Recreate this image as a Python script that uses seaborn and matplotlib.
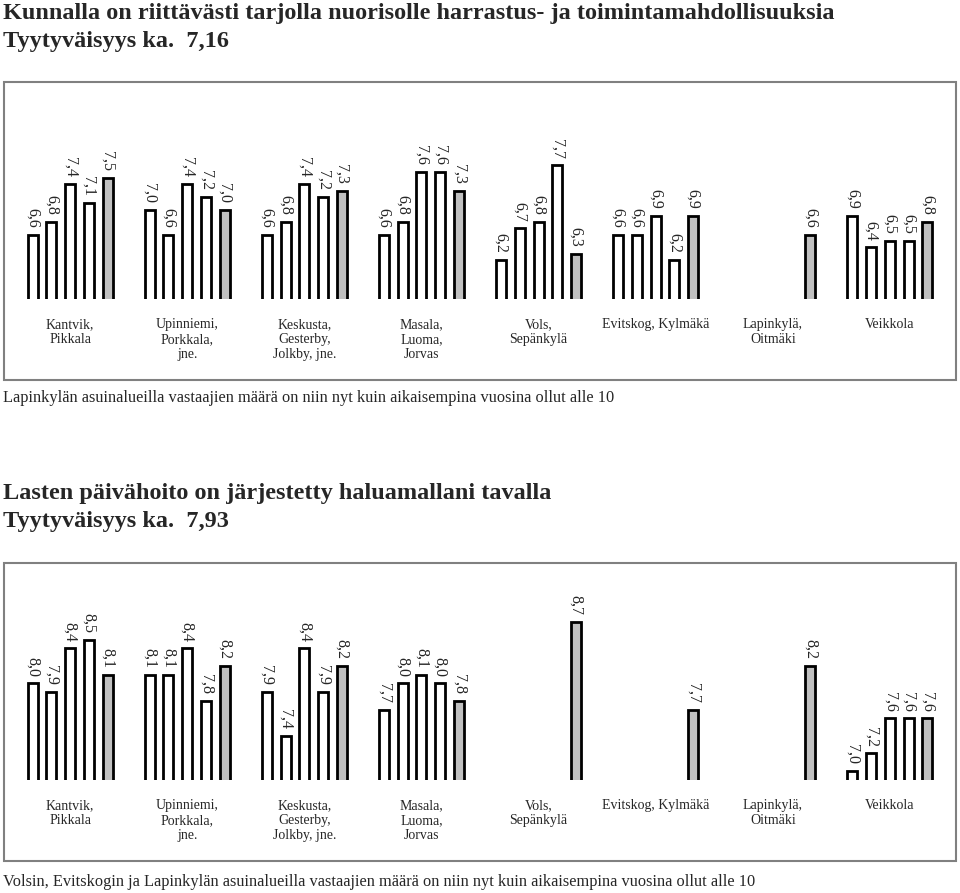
import numpy as np
import pandas as pd
import seaborn as sns
import matplotlib.pyplot as plt
from matplotlib.patches import Rectangle

sns.set_style('white')
plt.rcParams['font.family'] = ['Liberation Serif', 'DejaVu Serif']

areas = ['Kantvik,\nPikkala', 'Upinniemi,\nPorkkala,\njne.', 'Keskusta,\nGesterby,\nJolkby, jne.',
         'Masala,\nLuoma,\nJorvas', 'Vols,\nSepänkylä', 'Evitskog, Kylmäkä',
         'Lapinkylä,\nOitmäki', 'Veikkola']
rounds = ['1', '2', '3', '4', '5']
nan = np.nan

# harrastus- ja toimintamahdollisuudet
hobby = [
    [6.6, 6.8, 7.4, 7.1, 7.5],
    [7.0, 6.6, 7.4, 7.2, 7.0],
    [6.6, 6.8, 7.4, 7.2, 7.3],
    [6.6, 6.8, 7.6, 7.6, 7.3],
    [6.2, 6.7, 6.8, 7.7, 6.3],
    [6.6, 6.6, 6.9, 6.2, 6.9],
    [nan, nan, nan, nan, 6.6],
    [6.9, 6.4, 6.5, 6.5, 6.8],
]
# päivähoito
daycare = [
    [8.0, 7.9, 8.4, 8.5, 8.1],
    [8.1, 8.1, 8.4, 7.8, 8.2],
    [7.9, 7.4, 8.4, 7.9, 8.2],
    [7.7, 8.0, 8.1, 8.0, 7.8],
    [nan, nan, nan, nan, 8.7],
    [nan, nan, nan, nan, 7.7],
    [nan, nan, nan, nan, 8.2],
    [7.0, 7.2, 7.6, 7.6, 7.6],
]

titles = [
    ('Kunnalla on riittävästi tarjolla nuorisolle harrastus- ja toimintamahdollisuuksia',
     'Tyytyväisyys ka.  7,16'),
    ('Lasten päivähoito on järjestetty haluamallani tavalla', 'Tyytyväisyys ka.  7,93'),
]
notes = [
    'Lapinkylän asuinalueilla vastaajien määrä on niin nyt kuin aikaisempina vuosina ollut alle 10',
    'Volsin, Evitskogin ja Lapinkylän asuinalueilla vastaajien määrä on niin nyt kuin aikaisempina vuosina ollut alle 10',
]

W, H = 960, 893
fig = plt.figure(figsize=(W / 100, H / 100), dpi=100)

palette = {'1': 'white', '2': 'white', '3': 'white', '4': 'white', '5': '#c0c0c0'}


def long_form(values):
    rows = []
    for a, vals in zip(areas, values):
        for r, v in zip(rounds, vals):
            if not np.isnan(v):
                rows.append({'alue': a, 'kerta': r, 'arvo': v})
    return pd.DataFrame(rows)


# (data, baseline y, top y, ylim, frame top, frame bottom, title baselines, note y) in pixels
panels = [
    (hobby, 299, 100, (5.58, 8.74), 82, 380, (19, 47), 398),
    (daycare, 780, 590, (6.897, 9.068), 563, 861, (499, 527), 882),
]

for i, (vals, base, top, ylim, ftop, fbot, tys, ny) in enumerate(panels):
    df = long_form(vals)
    ax = fig.add_axes([11.5 / W, 1 - base / H, 937 / W, (base - top) / H])
    sns.barplot(data=df, x='alue', y='arvo', hue='kerta', order=areas, hue_order=rounds,
                palette=palette, edgecolor='black', linewidth=2, width=0.8, gap=0.47,
                errorbar=None, legend=False, ax=ax)
    ax.set_ylim(*ylim)
    ax.set_xlim(-0.5, len(areas) - 0.5)
    for c in ax.containers:
        labels = [f'{b.get_height():.1f}'.replace('.', ',') for b in c]
        ax.bar_label(c, labels=labels, rotation=270, padding=5, fontsize=11.5)
    for s in ax.spines.values():
        s.set_visible(False)
    ax.set_yticks([])
    ax.set_xlabel('')
    ax.set_ylabel('')
    ax.tick_params(axis='x', length=0, pad=14, labelsize=10)
    ax.patch.set_alpha(0)

    fig.patches.append(Rectangle((4 / W, 1 - fbot / H), 952 / W, (fbot - ftop) / H,
                                 transform=fig.transFigure, fill=False,
                                 edgecolor='#808080', linewidth=1.5, zorder=0))
    fig.text(3 / W, 1 - tys[0] / H, titles[i][0], fontsize=17.5, fontweight='bold', va='baseline')
    fig.text(3 / W, 1 - tys[1] / H, titles[i][1], fontsize=17.5, fontweight='bold', va='baseline')
    fig.text(3 / W, 1 - ny / H, notes[i], fontsize=11.8, va='center')

fig.savefig('out.png', dpi=100)
